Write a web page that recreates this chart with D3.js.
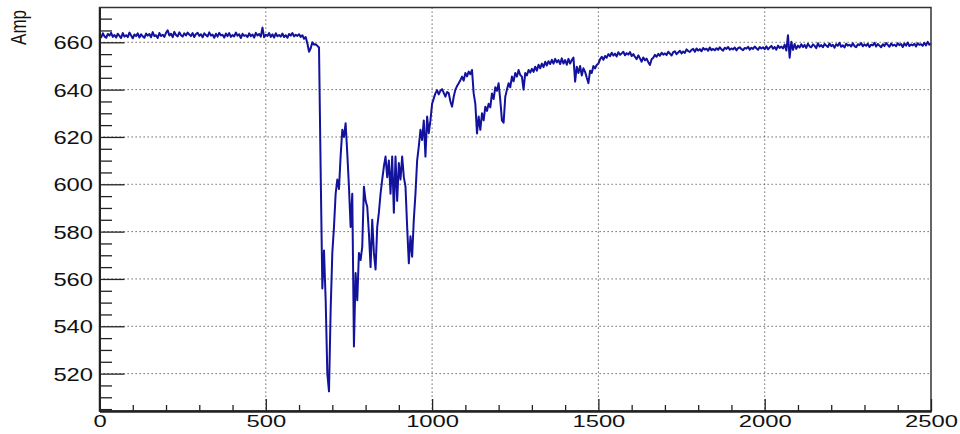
<!DOCTYPE html>
<html>
<head>
<meta charset="utf-8">
<script src="https://cdn.jsdelivr.net/npm/d3@7"></script>
<style>
  body { margin: 0; background: #fff; }
  svg { display: block; }
</style>
</head>
<body>
<svg id="chart" width="960" height="434"></svg>
<script>
// one sample every 5 units on the x axis
const sampleStep = 5;

// x 0..645 : flat before the drop
const ampFlat = [
  663.2, 662.1, 663.8, 662.5, 661.9, 663.5, 662.8, 664.0, 662.3, 663.1,
  662.0, 663.6, 662.7, 661.8, 663.9, 662.4, 663.0, 662.2, 664.1, 662.9,
  661.7, 663.3, 662.6, 663.8, 662.0, 663.4, 662.5, 661.9, 663.7, 662.8,
  663.5, 662.1, 664.3, 662.6, 663.0, 661.8, 663.9, 662.7, 663.2, 662.3,
  664.0, 665.1, 662.9, 663.6, 662.2, 664.4, 663.1, 662.5, 664.2, 663.0,
  662.4, 663.8, 662.9, 664.1, 663.3, 662.6, 663.9, 662.2, 663.5, 664.0,
  662.7, 663.4, 662.1, 663.8, 663.0, 662.5, 664.2, 662.8, 663.3, 661.9,
  663.6, 662.4, 664.0, 662.9, 663.2, 662.0, 663.7, 662.6, 663.9, 662.3,
  663.1, 662.5, 664.1, 662.8, 663.4, 661.8, 663.6, 662.7, 663.0, 662.2,
  663.8, 662.6, 663.3, 662.0, 664.0, 662.9, 663.5, 662.4, 666.2, 662.1,
  663.2, 662.7, 663.9, 662.3, 663.4, 662.0, 663.8, 662.6, 663.1, 662.4,
  663.7, 662.2, 663.0, 661.9, 663.5, 662.8, 663.9, 662.5, 663.2, 662.7,
  663.4, 662.3, 663.0, 661.5, 662.2, 659.5, 656.0, 657.5, 660.0, 659.0
];

// x 650..1000 : the drop and the noisy minimum
const ampDrop = [
  659.2, 658.5, 657.8, 605.0, 556.0, 572.0, 551.0, 520.0, 512.5, 547.0,
  571.0, 582.0, 596.0, 602.0, 598.0, 612.0, 623.0, 620.0, 625.8, 613.0,
  599.0, 582.0, 596.0, 531.5, 562.5, 551.0, 571.0, 568.0, 573.6, 599.0,
  593.0, 590.5, 579.4, 565.0, 585.0, 571.0, 564.0, 582.0, 588.0, 596.0,
  602.0, 607.5, 611.7, 603.0, 610.0, 596.0, 611.7, 588.0, 611.7, 593.0,
  609.0, 602.0, 611.7, 603.0, 599.0, 582.0, 566.6, 578.0, 569.4, 585.0,
  596.0, 610.0, 616.0, 623.0, 618.7, 627.0, 611.7, 628.6, 621.6, 627.0,
  634.0
];

// x 1005..1500 : recovery
const ampRise = [
  636.3, 638.4, 639.8, 638.0, 639.5, 640.2, 638.6, 637.0, 639.0, 638.5,
  635.0, 632.8, 637.0, 640.0, 641.5, 642.7, 644.0, 645.5, 643.8, 647.0,
  645.6, 647.6, 646.5, 648.3, 638.4, 634.0, 621.5, 628.6, 623.0, 630.0,
  627.0, 632.8, 631.0, 634.0, 632.5, 638.4, 636.0, 641.0, 639.5, 642.7,
  635.6, 627.0, 626.0, 637.0, 640.0, 642.7, 641.0, 645.5, 643.5, 647.0,
  645.5, 648.3, 646.2, 645.5, 640.0, 647.0, 646.0, 648.3, 647.2, 648.8,
  647.5, 649.7, 648.0, 650.5, 649.0, 651.0, 649.5, 651.8, 650.2, 652.0,
  650.8, 652.6, 651.0, 653.0, 651.5, 652.5, 650.8, 653.2, 651.0, 652.5,
  650.5, 653.0, 651.0, 652.5, 653.5, 643.4, 649.7, 647.0, 650.0, 646.0,
  649.0, 647.5, 645.0, 642.7, 648.0, 647.0, 650.0, 649.0, 650.4, 651.0
];

// x 1505..2500 : slow approach to the plateau
const ampTail = [
  652.8, 653.9, 652.6, 654.2, 653.5, 655.0, 654.1, 655.6, 654.4, 655.2,
  654.0, 655.8, 654.7, 655.3, 656.0, 654.5, 655.4, 654.8, 655.9, 654.2,
  655.0, 653.8, 652.9, 654.5, 653.2, 651.8, 653.6, 652.4, 653.1, 651.6,
  650.4, 652.8, 653.5, 654.7, 653.9, 655.1, 654.3, 655.6, 654.8, 655.3,
  654.6, 656.0, 655.2, 654.4, 655.8, 656.2, 655.0, 655.7, 656.4, 655.3,
  656.1, 655.5, 657.0, 656.3, 655.9, 656.8, 657.2, 656.0, 657.4, 656.5,
  657.1, 656.2, 657.6, 656.9, 657.3, 656.4, 657.8, 656.7, 657.2, 656.6,
  657.5, 656.8, 657.9, 657.0, 656.5, 657.7, 657.2, 658.0, 656.9, 657.4,
  657.0, 657.8, 656.6, 657.5, 657.9, 657.1, 656.7, 657.6, 657.3, 658.1,
  656.9, 657.7, 657.2, 658.2, 657.5, 656.8, 658.0, 657.4, 657.9, 657.1,
  658.3, 657.0, 657.8, 658.5, 657.3, 658.0, 656.9, 658.6, 657.6, 658.2,
  657.4, 659.0, 656.5, 663.0, 653.5, 660.2, 656.8, 659.3, 657.2, 658.6,
  657.8, 659.2, 658.0, 658.9, 657.6, 659.4, 658.3, 657.9, 659.1, 658.5,
  657.5, 659.6, 658.2, 658.8, 657.9, 659.3, 658.6, 658.0, 659.5, 658.4,
  658.9, 657.7, 659.2, 658.5, 659.8, 658.1, 658.7, 657.8, 659.4, 658.6,
  659.0, 658.2, 659.6, 658.4, 657.9, 659.2, 658.8, 659.7, 658.3, 659.1,
  658.5, 659.4, 658.0, 659.0, 658.7, 659.8, 658.2, 659.3, 658.6, 657.9,
  659.2, 658.4, 659.7, 658.9, 658.1, 659.5, 658.6, 659.0, 658.3, 659.6,
  658.8, 659.3, 658.0, 659.5, 658.6, 659.9, 658.4, 659.1, 658.7, 659.4,
  658.2, 659.6, 658.9, 659.2, 658.5, 659.8, 658.7, 660.2, 659.0, 659.4
];

const xMajorTicks = [0, 500, 1000, 1500, 2000, 2500];
const xMinorTicks = [100, 200, 300, 400, 600, 700, 800, 900, 1100, 1200, 1300, 1400,
  1600, 1700, 1800, 1900, 2100, 2200, 2300, 2400];
const yMajorTicks = [520, 540, 560, 580, 600, 620, 640, 660];
const yMinorTicks = [505, 510, 515, 525, 530, 535, 545, 550, 555, 565, 570, 575, 585, 590, 595,
  605, 610, 615, 625, 630, 635, 645, 650, 655, 665, 670];
const yTitle = "Amp";

const amp = [...ampFlat, ...ampDrop, ...ampRise, ...ampTail];
const points = amp.map((v, i) => [i * sampleStep, v]);

const margin = { top: 7.5, right: 29, bottom: 23, left: 99.5 };
const width = 960 - margin.left - margin.right;
const height = 434 - margin.top - margin.bottom;

const svg = d3.select("#chart");
const g = svg.append("g").attr("transform", `translate(${margin.left},${margin.top})`);

const x = d3.scaleLinear().domain([0, 2500]).range([0, width]);
const y = d3.scaleLinear().domain([504.2, 674.7]).range([height, 0]);

// dotted grid at the major ticks
const grid = g.append("g")
  .attr("stroke", "#555")
  .attr("stroke-width", 1)
  .attr("stroke-dasharray", "1.3,2.7");
grid.selectAll(".gx").data(xMajorTicks.slice(1, -1)).join("line")
  .attr("x1", d => x(d)).attr("x2", d => x(d))
  .attr("y1", 0).attr("y2", height);
grid.selectAll(".gy").data(yMajorTicks).join("line")
  .attr("x1", 0).attr("x2", width)
  .attr("y1", d => y(d)).attr("y2", d => y(d));

// data
g.append("path")
  .datum(points)
  .attr("fill", "none")
  .attr("stroke", "#12129c")
  .attr("stroke-width", 2)
  .attr("stroke-linejoin", "round")
  .attr("d", d3.line().x(d => x(d[0])).y(d => y(d[1])));

// frame
g.append("rect")
  .attr("width", width).attr("height", height)
  .attr("fill", "none").attr("stroke", "#333").attr("stroke-width", 1.5);

const labelFont = "'Liberation Sans', Arial, Helvetica, sans-serif";

// y axis, ticks pointing inwards
const yAxis = g.append("g")
  .call(d3.axisLeft(y).tickValues(yMajorTicks).tickSizeInner(-25).tickSizeOuter(0).tickPadding(0));
g.append("g")
  .call(d3.axisLeft(y).tickValues(yMinorTicks).tickSizeInner(-12.5).tickSizeOuter(0).tickFormat(""));

// x axis
const xAxis = g.append("g")
  .attr("transform", `translate(0,${height})`)
  .call(d3.axisBottom(x).tickValues(xMajorTicks).tickFormat(d3.format("d"))
    .tickSizeInner(-12).tickSizeOuter(0).tickPadding(0));
g.append("g")
  .attr("transform", `translate(0,${height})`)
  .call(d3.axisBottom(x).tickValues(xMinorTicks).tickSizeInner(-6).tickSizeOuter(0).tickFormat(""));

g.selectAll(".domain").attr("stroke", "#222").attr("stroke-width", 2);
g.selectAll(".tick line").attr("stroke", "#222").attr("stroke-width", 1.3);

yAxis.selectAll("text")
  .attr("font-family", labelFont).attr("font-size", 19).attr("fill", "#111")
  .attr("x", -6.5 / 1.25).attr("dy", "0.34em")
  .attr("transform", "scale(1.25,1)");

xAxis.selectAll("text")
  .attr("font-family", labelFont).attr("font-size", 17).attr("fill", "#111")
  .attr("y", 4).attr("dy", "0.71em")
  .attr("transform", "scale(1.4,1)");

// y title, right-aligned at the top of the axis
svg.append("text")
  .attr("transform", "translate(26,10) scale(1.3,1) rotate(-90)")
  .attr("text-anchor", "end")
  .attr("font-family", labelFont).attr("font-size", 17).attr("fill", "#111")
  .text(yTitle);
</script>
</body>
</html>
